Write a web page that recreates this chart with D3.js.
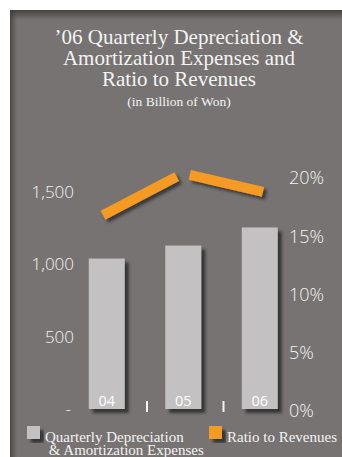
<!DOCTYPE html>
<html>
<head>
<meta charset="utf-8">
<script src="https://cdn.jsdelivr.net/npm/d3@7/dist/d3.min.js"></script>
<style>
  html, body { margin: 0; padding: 0; background: #ffffff; }
  svg { display: block; }
</style>
</head>
<body>
<script>
// Quarterly depreciation & amortization expenses (bars, left axis) and ratio to revenues (line, right axis)
const quarters = ["04", "05", "06"];
const expenses = [1040, 1130, 1255];          // billion won
const ratios = [16.8, 20.4, 18.8];            // % of revenues
const expenseTicks = [0, 500, 1000, 1500];
const ratioTicks = [0, 5, 10, 15, 20];
const titleLines = ["\u201906 Quarterly Depreciation &", "Amortization Expenses and", "Ratio to Revenues"];
const subtitle = "(in Billion of Won)";
const legendItems = [
  { lines: ["Quarterly Depreciation", " & Amortization Expenses"], kind: "bar" },
  { lines: ["Ratio to Revenues"], kind: "line" }
];

const W = 342, H = 457;
const COL = { panel: "#777372", bar: "#c3c1c1", line: "#f59a23", text: "#f3f3f3" };

const svg = d3.select("body").append("svg").attr("width", W).attr("height", H);
const defs = svg.append("defs");

const fBar = defs.append("filter").attr("id", "barShadow")
  .attr("x", "-20%").attr("y", "-20%").attr("width", "150%").attr("height", "150%");
fBar.append("feDropShadow").attr("dx", 4).attr("dy", 4).attr("stdDeviation", 1.6)
  .attr("flood-color", "#2b2929").attr("flood-opacity", 0.85);

const fLine = defs.append("filter").attr("id", "lineShadow")
  .attr("x", "-20%").attr("y", "-50%").attr("width", "150%").attr("height", "250%");
fLine.append("feDropShadow").attr("dx", 3).attr("dy", 3).attr("stdDeviation", 1.4)
  .attr("flood-color", "#2b2929").attr("flood-opacity", 0.8);

const gTop = defs.append("linearGradient").attr("id", "topShade").attr("x1", 0).attr("y1", 0).attr("x2", 0).attr("y2", 1);
gTop.append("stop").attr("offset", 0).attr("stop-color", "#3f3c3b").attr("stop-opacity", 0.9);
gTop.append("stop").attr("offset", 1).attr("stop-color", "#3f3c3b").attr("stop-opacity", 0);
const gLeft = defs.append("linearGradient").attr("id", "leftShade").attr("x1", 0).attr("y1", 0).attr("x2", 1).attr("y2", 0);
gLeft.append("stop").attr("offset", 0).attr("stop-color", "#3f3c3b").attr("stop-opacity", 0.8);
gLeft.append("stop").attr("offset", 1).attr("stop-color", "#3f3c3b").attr("stop-opacity", 0);

// panel
const panel = { x: 10, y: 10 };
svg.append("rect").attr("x", panel.x).attr("y", panel.y)
  .attr("width", W - panel.x).attr("height", H - panel.y).attr("fill", COL.panel);
svg.append("rect").attr("x", panel.x).attr("y", panel.y)
  .attr("width", W - panel.x).attr("height", 10).attr("fill", "url(#topShade)");
svg.append("rect").attr("x", panel.x).attr("y", panel.y)
  .attr("width", 7).attr("height", H - panel.y).attr("fill", "url(#leftShade)");

// title
const title = svg.append("g").attr("fill", COL.text)
  .attr("font-family", "'Liberation Serif', 'Times New Roman', serif").attr("text-anchor", "middle");
title.selectAll("text.t").data(titleLines).join("text").attr("class", "t")
  .attr("x", 179).attr("y", (d, i) => 44 + i * 21)
  .attr("font-size", 21).text(d => d);
title.append("text").attr("x", 179).attr("y", 106).attr("font-size", 13.5).text(subtitle);

// scales
const x = d3.scaleBand().domain(quarters).range([68.5, 298]).paddingInner(0.53).paddingOuter(0.265);
const yL = d3.scaleLinear().domain([0, 1500]).range([409, 192]);
const yR = d3.scaleLinear().domain([0, 20]).range([411, 178]);
const xLine = d3.scalePoint().domain(quarters).range([103, 263]);

const axisFont = "'Open Sans', 'Noto Sans', sans-serif";

// left axis
const leftAxis = svg.append("g").attr("transform", "translate(74,0)")
  .call(d3.axisLeft(yL).tickValues(expenseTicks).tickSize(0).tickPadding(0)
    .tickFormat(d => d === 0 ? "-" : d3.format(",")(d)));
leftAxis.select(".domain").remove();
leftAxis.selectAll("text").attr("fill", COL.text).attr("font-family", axisFont)
  .attr("font-size", 17).attr("font-weight", 300);
leftAxis.selectAll(".tick").filter(d => d === 0).select("text").attr("dx", -3);

// right axis
const rightAxis = svg.append("g").attr("transform", "translate(289,0)")
  .call(d3.axisRight(yR).tickValues(ratioTicks).tickSize(0).tickPadding(0).tickFormat(d => d + "%"));
rightAxis.select(".domain").remove();
rightAxis.selectAll("text").attr("fill", COL.text).attr("font-family", axisFont)
  .attr("font-size", 18).attr("font-weight", 300);

// bars
svg.append("g").selectAll("rect").data(quarters).join("rect")
  .attr("x", d => x(d)).attr("width", x.bandwidth())
  .attr("y", (d, i) => yL(expenses[i])).attr("height", (d, i) => yL(0) - yL(expenses[i]))
  .attr("fill", COL.bar).attr("filter", "url(#barShadow)");

// category labels inside bars
svg.append("g").selectAll("text").data(quarters).join("text")
  .attr("x", d => x(d) + x.bandwidth() / 2).attr("y", 406)
  .attr("text-anchor", "middle").attr("fill", "#ffffff")
  .attr("font-family", axisFont).attr("font-size", 14.5).attr("font-weight", 400).text(d => d);

// small ticks between categories
const step = x.step();
svg.append("g").selectAll("rect").data(quarters.slice(1)).join("rect")
  .attr("x", d => x(d) - x.paddingInner() * step / 2 + 1).attr("y", 401)
  .attr("width", 2).attr("height", 11).attr("fill", "#f4f4f4");

// ratio line, drawn as separate thick segments with a gap at interior points
const gap = 7;
const pts = quarters.map((q, i) => [xLine(q), yR(ratios[i])]);
const segs = d3.range(pts.length - 1).map(i => {
  const [x0, y0] = pts[i], [x1, y1] = pts[i + 1];
  const len = Math.hypot(x1 - x0, y1 - y0), ux = (x1 - x0) / len, uy = (y1 - y0) / len;
  const s = i > 0 ? gap : 0, e = i < pts.length - 2 ? gap : 0;
  return [[x0 + ux * s, y0 + uy * s], [x1 - ux * e, y1 - uy * e]];
});
svg.append("g").attr("filter", "url(#lineShadow)").selectAll("path").data(segs).join("path")
  .attr("d", d => d3.line()(d)).attr("stroke", COL.line).attr("stroke-width", 10)
  .attr("stroke-linecap", "butt").attr("fill", "none");

// legend
const legend = svg.append("g");
const legPos = [{ x: 27, y: 426 }, { x: 209, y: 426 }];
legendItems.forEach((item, i) => {
  const p = legPos[i];
  legend.append("rect").attr("x", p.x).attr("y", p.y).attr("width", 13).attr("height", 13)
    .attr("fill", item.kind === "bar" ? COL.bar : COL.line).attr("filter", "url(#barShadow)");
  item.lines.forEach((t, j) => {
    legend.append("text").attr("x", p.x + 18).attr("y", p.y + 16 + j * 13)
      .attr("fill", COL.text).attr("font-family", "'Liberation Serif', 'Times New Roman', serif")
      .attr("font-size", 15).attr("xml:space", "preserve").style("white-space", "pre").text(t);
  });
});
</script>
</body>
</html>
